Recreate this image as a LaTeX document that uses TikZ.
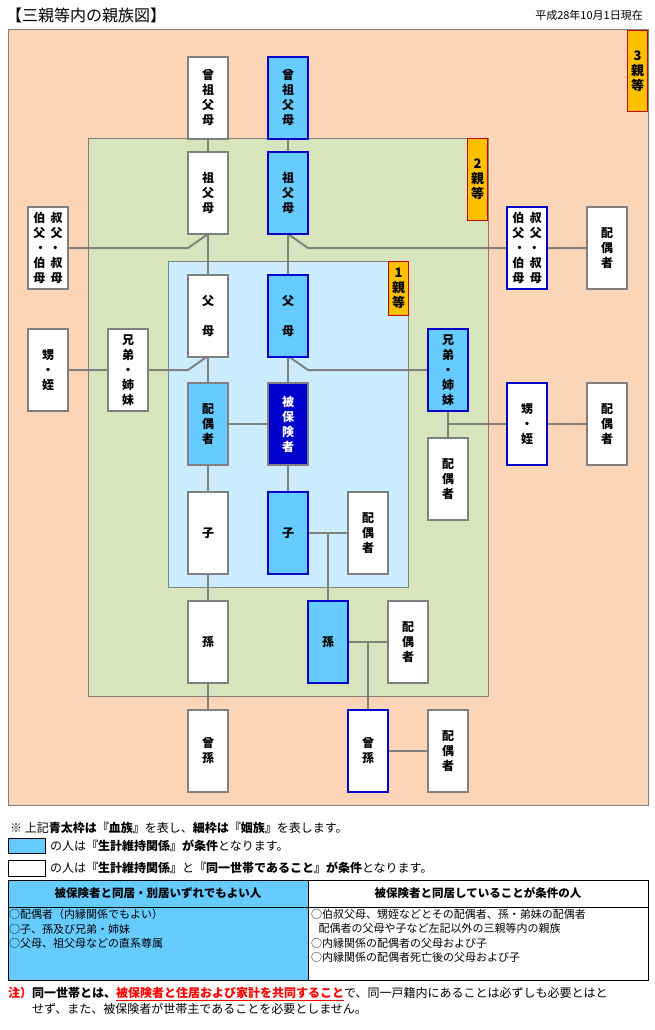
\documentclass[tikz,border=0pt]{standalone}
\usepackage{fontspec}
\setmainfont{Noto Sans CJK JP}
\definecolor{peach}{HTML}{FBD5B5}
\definecolor{gr}{HTML}{D8E4BC}
\definecolor{lb}{HTML}{CCECFF}
\definecolor{sky}{HTML}{66CCFF}
\definecolor{navy}{HTML}{0000CC}
\definecolor{org}{HTML}{FFC000}
\definecolor{ln}{HTML}{808080}
\begin{document}
\begin{tikzpicture}[x=1pt,y=-1pt,
  base/.style={minimum width=40pt,minimum height=82pt,inner sep=0pt,align=center,font=\fontsize{12}{15}\selectfont\bfseries},
  inlaw/.style={base,draw=ln,line width=1.2pt,fill=white},
  blood/.style={base,draw=navy,line width=2pt,fill=white},
  bloodc/.style={base,draw=navy,line width=2pt,fill=sky},
  inlawc/.style={base,draw=ln,line width=1.2pt,fill=sky},
  self/.style={base,draw=ln,line width=1.2pt,fill=navy,text=white},
  deg/.style={draw=red!80!black,fill=org,line width=1pt,minimum width=20pt,inner sep=0pt,align=center,font=\fontsize{13}{15}\selectfont\bfseries},
  con/.style={draw=ln,line width=2pt},
  txt/.style={anchor=west,inner sep=0pt,font=\fontsize{12}{14}\selectfont}]
\useasboundingbox (0,0) rectangle (654,1030);
\fill[white] (0,0) rectangle (654,1030);
\node[anchor=west,inner sep=0pt,font=\fontsize{16}{18}\selectfont] (title) at (6,15) {【三親等内の親族図】};
\node[anchor=east,inner sep=0pt,font=\fontsize{11}{12}\selectfont] (date) at (643,15) {平成28年10月1日現在};
\draw[fill=peach,draw=ln,line width=1pt] (8,30) rectangle (648,805);
\draw[fill=gr,draw=ln,line width=0.8pt] (88,138) rectangle (488,696);
\draw[fill=lb,draw=ln,line width=0.8pt] (168,261) rectangle (408,587);
\node[deg,minimum height=81pt,anchor=north west] (d3) at (627,30) {3\\親\\等};
\node[deg,minimum height=82pt,anchor=north west] (d2) at (467,138) {2\\親\\等};
\node[deg,minimum height=54pt,anchor=north west] (d1) at (388,261) {1\\親\\等};
% connectors
\draw[con] (208,98) -- (208,193) -- (208,316) -- (208,533) -- (208,751);
\draw[con] (288,98) -- (288,193) -- (288,316) -- (288,533);
\draw[con] (208,234) -- (188,248) -- (48,248);
\draw[con] (288,234) -- (308,248) -- (607,248);
\draw[con] (208,356) -- (188,370) -- (48,370);
\draw[con] (288,356) -- (308,370) -- (448,370);
\draw[con] (208,424) -- (288,424);
\draw[con] (448,370) -- (448,479);
\draw[con] (448,424) -- (607,424);
\draw[con] (288,533) -- (368,533);
\draw[con] (328,533) -- (328,642) -- (408,642);
\draw[con] (368,642) -- (368,751) -- (448,751);
% nodes
\node[inlaw] (ggA) at (208,98) {曾\\祖\\父\\母};
\node[bloodc] (ggB) at (288,98) {曾\\祖\\父\\母};
\node[inlaw] (gA) at (208,193) {祖\\父\\母};
\node[bloodc] (gB) at (288,193) {祖\\父\\母};
\node[inlaw] (ulL) at (48,248) {伯\ \ 叔\\父\ \ 父\\・\ ・\\伯\ \ 叔\\母\ \ 母};
\node[blood] (ulR) at (527,248) {伯\ \ 叔\\父\ \ 父\\・\ ・\\伯\ \ 叔\\母\ \ 母};
\node[inlaw] (ulRs) at (607,248) {配\\偶\\者};
\node[inlaw] (pA) at (208,316) {父\\\\母};
\node[bloodc] (pB) at (288,316) {父\\\\母};
\node[inlaw] (neL) at (48,370) {甥\\・\\姪};
\node[inlaw] (sbL) at (128,370) {兄\\弟\\・\\姉\\妹};
\node[bloodc] (sbR) at (448,370) {兄\\弟\\・\\姉\\妹};
\node[inlawc] (sp) at (208,424) {配\\偶\\者};
\node[self] (me) at (288,424) {被\\保\\険\\者};
\node[blood] (neR) at (527,424) {甥\\・\\姪};
\node[inlaw] (neRs) at (607,424) {配\\偶\\者};
\node[inlaw] (sbRs) at (448,479) {配\\偶\\者};
\node[inlaw] (cA) at (208,533) {子};
\node[bloodc] (cB) at (288,533) {子};
\node[inlaw] (cBs) at (368,533) {配\\偶\\者};
\node[inlaw] (gcA) at (208,642) {孫};
\node[bloodc] (gcB) at (328,642) {孫};
\node[inlaw] (gcBs) at (408,642) {配\\偶\\者};
\node[inlaw] (ggcA) at (208,751) {曾\\孫};
\node[blood] (ggcB) at (368,751) {曾\\孫};
\node[inlaw] (ggcBs) at (448,751) {配\\偶\\者};
% legend
\node[txt] (l1) at (10,828) {※\ 上記\textbf{青太枠は『血族』}を表し、\textbf{細枠は『姻族』}を表します。};
\draw[fill=sky,draw=black,line width=0.8pt] (8,838) rectangle (45,853);
\node[txt] (l2) at (50,846) {の人は\textbf{『生計維持関係』が条件}となります。};
\draw[fill=white,draw=black,line width=0.8pt] (8,860) rectangle (45,876);
\node[txt] (l3) at (50,868) {の人は\textbf{『生計維持関係』}と\textbf{『同一世帯であること』が条件}となります。};
% table
\fill[sky] (8,880) rectangle (308,980);
\draw[line width=0.8pt] (8,880) rectangle (648,980);
\draw[line width=0.6pt] (8,907) -- (648,907);
\draw[line width=0.6pt] (308,880) -- (308,980);
\node[font=\fontsize{11.5}{13}\selectfont\bfseries] (h1) at (158,893) {被保険者と同居・別居いずれでもよい人};
\node[font=\fontsize{11.5}{13}\selectfont\bfseries] (h2) at (478,893) {被保険者と同居していることが条件の人};
\node[txt,anchor=north west,align=left,font=\fontsize{11}{14.5}\selectfont] (c1) at (9,909) {○配偶者（内縁関係でもよい）\\○子、孫及び兄弟・姉妹\\○父母、祖父母などの直系尊属};
\node[txt,anchor=north west,align=left,font=\fontsize{11}{14.5}\selectfont] (c2) at (311,909) {○伯叔父母、甥姪などとその配偶者、孫・弟妹の配偶者\\\ \ \ 配偶者の父母や子など左記以外の三親等内の親族\\○内縁関係の配偶者の父母および子\\○内縁関係の配偶者死亡後の父母および子};
% note
\node[txt,anchor=north west,align=left,font=\fontsize{12}{16}\selectfont] (note) at (8,987) {\textcolor{red}{\textbf{注）}}\textbf{同一世帯とは、}\textcolor{red}{\textbf{\underline{被保険者と住居および家計を共同すること}}}で、同一戸籍内にあることは必ずしも必要とはと\\\hspace{2em}せず、また、被保険者が世帯主であることを必要としません。};
\end{tikzpicture}
\end{document}
